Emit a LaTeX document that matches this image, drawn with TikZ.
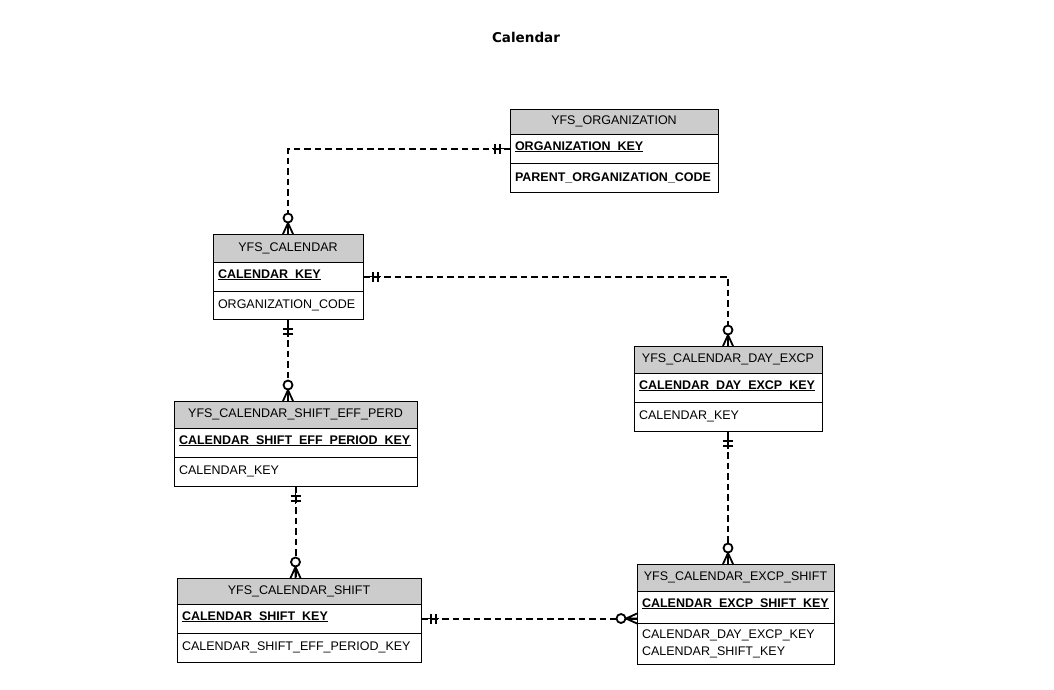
\documentclass[tikz,border=0pt]{standalone}
\usepackage{fontspec}
\setmainfont{Liberation Sans}
\newfontfamily\titlefont{DejaVu Sans}
\usetikzlibrary{calc}
\definecolor{hdrgray}{RGB}{204,204,204}

% underlined primary key: the rule runs at least #2 long
\newlength\keywd
\newcommand\keyul[2]{\settowidth\keywd{#1}\ifdim\keywd<#2\setlength\keywd{#2}\fi
  \rlap{\rule[-2pt]{\keywd}{1pt}}#1\rule[-5pt]{0pt}{5pt}}

\tikzset{
  ent/.style={draw=black, line width=1pt, anchor=north west, outer sep=0pt,
    inner xsep=5pt, inner ysep=0pt, font=\fontsize{12.5}{17}\selectfont},
  enthead/.style={ent, fill=hdrgray, align=center},
  entkey/.style={ent, fill=white, align=left, font=\fontsize{12.5}{17}\selectfont\bfseries},
  entattr/.style={ent, fill=white, align=left},
  rel/.style={line width=2pt, dash pattern=on 6.5pt off 4pt},
  relmark/.style={line width=1.8pt, solid},
}

% "exactly one" end: stub and two bars, pointing away from the entity at angle #2
\newcommand\markone[2]{\begin{scope}[shift={(#1)}, rotate=#2]
  \draw[relmark] (0pt,0pt) -- (18pt,0pt) (10pt,-5pt) -- (10pt,5pt) (15pt,-5pt) -- (15pt,5pt);
\end{scope}}
% "zero or many" end: crow's foot and ring
\newcommand\markmany[2]{\begin{scope}[shift={(#1)}, rotate=#2]
  \draw[relmark] (11pt,0pt) -- (0pt,-5pt) (11pt,0pt) -- (0pt,0pt) (11pt,0pt) -- (0pt,5pt);
  \draw[relmark, fill=white] (16pt,0pt) circle[radius=4.5pt];
\end{scope}}

\begin{document}
\begin{tikzpicture}[x=1pt, y=-1pt]
\fill[white] (0,0) rectangle (1054,689);
\useasboundingbox (0,0) rectangle (1054,689);

\node[font=\titlefont\bfseries\fontsize{13.5}{16}\selectfont, anchor=base] (title) at (526,42) {Calendar};

% YFS_ORGANIZATION
\node[enthead, text width=198pt, minimum height=25pt] (orgH) at (510,109) {YFS\_ORGANIZATION};
\node[entkey, text width=198pt, minimum height=29pt] (orgK) at (orgH.south west) {\keyul{ORGANIZATION\_KEY}{128pt}};
\node[entkey, text width=198pt, minimum height=29pt] (orgA) at (orgK.south west) {PARENT\_ORGANIZATION\_CODE};

% YFS_CALENDAR
\node[enthead, text width=140pt, minimum height=28pt] (calH) at (213,234) {YFS\_CALENDAR};
\node[entkey, text width=140pt, minimum height=29pt] (calK) at (calH.south west) {\keyul{CALENDAR\_KEY}{100pt}};
\node[entattr, text width=140pt, minimum height=28pt] (calA) at (calK.south west) {ORGANIZATION\_CODE};

% YFS_CALENDAR_SHIFT_EFF_PERD
\node[enthead, text width=233pt, minimum height=27pt] (effH) at (174,401) {YFS\_CALENDAR\_SHIFT\_EFF\_PERD};
\node[entkey, text width=233pt, minimum height=29pt] (effK) at (effH.south west) {\keyul{CALENDAR\_SHIFT\_EFF\_PERIOD\_KEY}{232pt}};
\node[entattr, text width=233pt, minimum height=29pt] (effA) at (effK.south west) {CALENDAR\_KEY};

% YFS_CALENDAR_DAY_EXCP
\node[enthead, text width=178pt, minimum height=27pt] (dayH) at (634,346) {YFS\_CALENDAR\_DAY\_EXCP};
\node[entkey, text width=178pt, minimum height=29pt] (dayK) at (dayH.south west) {\keyul{CALENDAR\_DAY\_EXCP\_KEY}{175pt}};
\node[entattr, text width=178pt, minimum height=29pt] (dayA) at (dayK.south west) {CALENDAR\_KEY};

% YFS_CALENDAR_SHIFT
\node[enthead, text width=234pt, minimum height=26pt] (shH) at (177,578) {YFS\_CALENDAR\_SHIFT};
\node[entkey, text width=234pt, minimum height=29pt] (shK) at (shH.south west) {\keyul{CALENDAR\_SHIFT\_KEY}{145pt}};
\node[entattr, text width=234pt, minimum height=29pt] (shA) at (shK.south west) {CALENDAR\_SHIFT\_EFF\_PERIOD\_KEY};

% YFS_CALENDAR_EXCP_SHIFT
\node[enthead, text width=187pt, minimum height=27pt] (exH) at (637,564) {YFS\_CALENDAR\_EXCP\_SHIFT};
\node[entkey, text width=187pt, minimum height=32pt] (exK) at (exH.south west) {\keyul{CALENDAR\_EXCP\_SHIFT\_KEY}{186pt}\rule[-8pt]{0pt}{8pt}};
\node[entattr, text width=187pt, minimum height=41pt] (exA) at (exK.south west) {CALENDAR\_DAY\_EXCP\_KEY\\CALENDAR\_SHIFT\_KEY};

% relationship end points
\coordinate (effTop) at (calA.south |- effH.north);
\coordinate (shTop)  at (effA.south |- shH.north);
\coordinate (exTop)  at (dayA.south |- exH.north);
\coordinate (exLeft) at (shK.east -| exH.west);

% relationships
\draw[rel] (orgK.west) -| (calH.north);
\draw[rel] (calK.east) -| (dayH.north);
\draw[rel] (calA.south) -- (effTop);
\draw[rel] (effA.south) -- (shTop);
\draw[rel] (dayA.south) -- (exTop);
\draw[rel] (shK.east) -- (exLeft);

\markone{orgK.west}{180}  \markmany{calH.north}{90}
\markone{calK.east}{0}    \markmany{dayH.north}{90}
\markone{calA.south}{270} \markmany{effTop}{90}
\markone{effA.south}{270} \markmany{shTop}{90}
\markone{dayA.south}{270} \markmany{exTop}{90}
\markone{shK.east}{0}     \markmany{exLeft}{180}
\end{tikzpicture}
\end{document}
